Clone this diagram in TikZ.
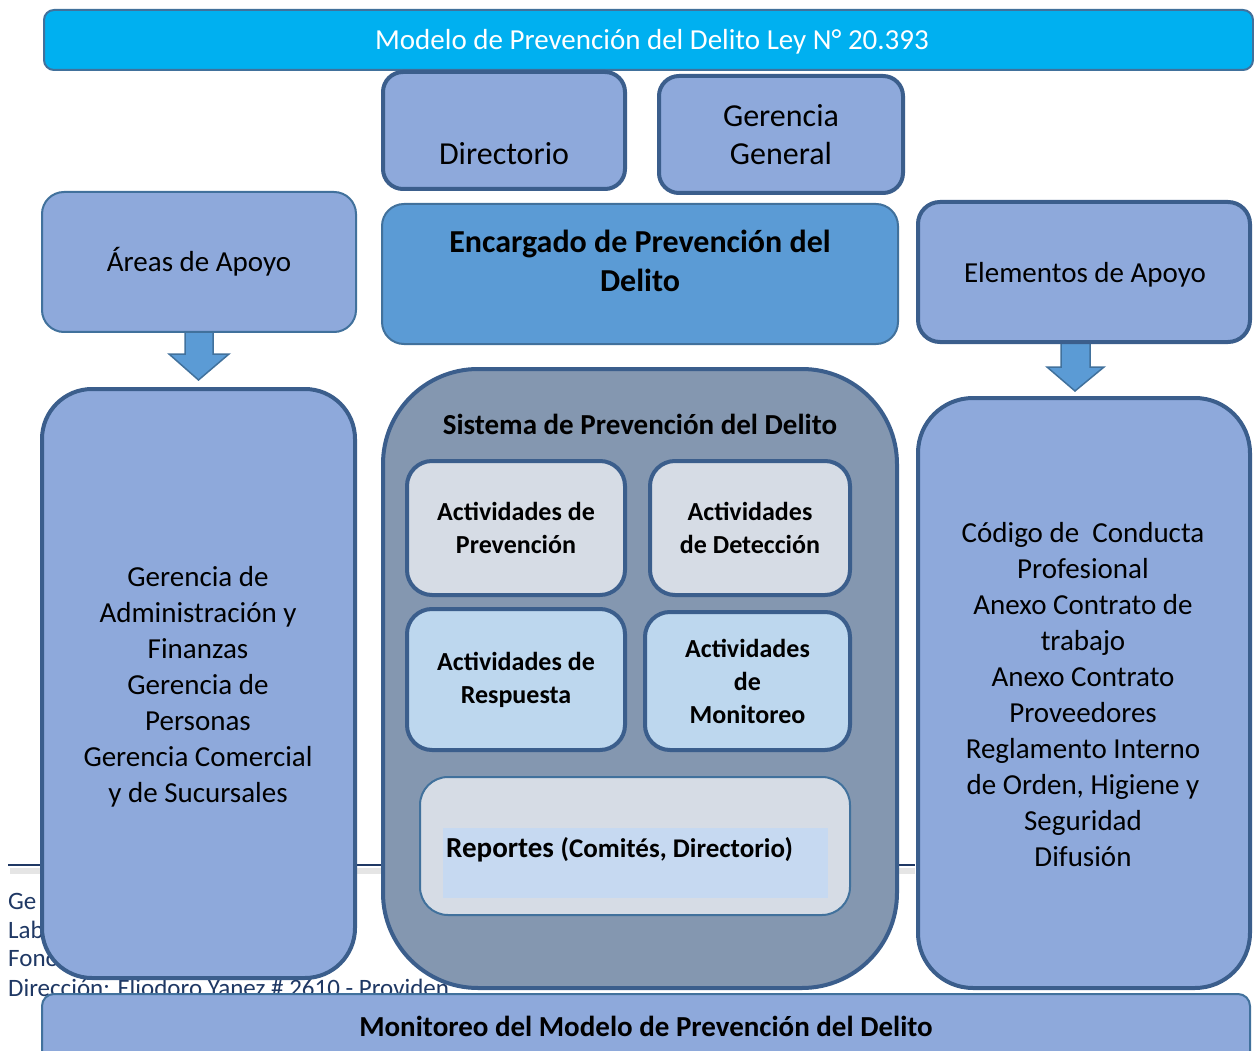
\documentclass[tikz,border=0pt]{standalone}
\usepackage{fontspec}
\setmainfont{Carlito}
\usetikzlibrary{calc}
\pgfdeclarelayer{bg}
\pgfdeclarelayer{arr}
\pgfsetlayers{bg,arr,main}
\definecolor{hdr}{HTML}{00B0F0}
\definecolor{lb}{HTML}{8EA9DB}
\definecolor{bd}{HTML}{3B5E8C}
\definecolor{bdt}{HTML}{41719C}
\definecolor{midb}{HTML}{5B9BD5}
\definecolor{slate}{HTML}{8497B0}
\definecolor{pale}{HTML}{D6DCE5}
\definecolor{paleb}{HTML}{BDD7EE}
\definecolor{repb}{HTML}{C6D9F1}
\definecolor{navy}{HTML}{1F3864}
\newcommand\fsz[2]{\fontsize{#1pt}{#2pt}\selectfont}
\tikzset{
  thickbox/.style={draw=bd, line width=4pt, fill=lb, inner sep=0pt, align=center},
  thinbox/.style={draw=bdt, line width=2pt, fill=lb, inner sep=0pt, align=center},
  reg/.style={font=\fsz{29}{36}},
  topt/.style={font=\fsz{32}{38}},
  boldt/.style={font=\bfseries\fsz{29}{36}},
  actt/.style={font=\bfseries\fsz{26}{33}},
  bigarrow/.style={fill=midb, draw=bdt, line width=1.5pt, line join=miter},
  foot/.style={text=navy, font=\fsz{25}{29}, anchor=west, inner sep=0pt}
}
\begin{document}
\begin{tikzpicture}[x=1pt,y=-1pt]
\clip (0,0) rectangle (1254,1051);
\begin{pgfonlayer}{bg}
\fill[white] (0,0) rectangle (1254,1051);
% page footer behind the diagram
\draw[black!20, line width=6pt, opacity=0.5] (10,871) -- (915,871);
\draw[navy, line width=2pt] (8,865) -- (915,865);
\node[foot] (f1) at (8,901) {Ge};
\node[foot] (f2) at (8,930) {Lab};
\node[foot] (f3) at (8,959) {Fono};
\node[foot] (f4) at (8,988) {Dirección: Eliodoro Yanez \# 2610 - Providen};
\end{pgfonlayer}

% header
\node[thinbox, fill=hdr, rounded corners=10pt, minimum width=1209pt, minimum height=60pt] (hdr) at (648.5,40) {};
\node[reg, text=white] (hdrt) at (652,42) {Modelo de Prevención del Delito Ley N° 20.393};

% top boxes
\node[thickbox, rounded corners=20pt, minimum width=242pt, minimum height=117pt] (dir) at (504,130.5) {};
\node[topt] (dirt) at (504,154) {Directorio};
\node[thickbox, rounded corners=20pt, minimum width=244pt, minimum height=117pt, topt] (ger) at (781,134.5) {Gerencia\\General};

\node[thinbox, rounded corners=22pt, minimum width=314pt, minimum height=140pt, reg] (areas) at (199,262) {Áreas de Apoyo};
\node[thinbox, fill=midb, rounded corners=22pt, minimum width=516pt, minimum height=140pt] (enc) at (640,274) {};
\node[font=\bfseries\fsz{32}{39}, align=center] (enct) at (640,260.5) {Encargado de Prevención del\\Delito};
\node[thickbox, rounded corners=22pt, minimum width=332pt, minimum height=140pt] (elem) at (1084,272) {};
\node[reg] (elemt) at (1085,275) {Elementos de Apoyo};

% big columns
\node[thickbox, rounded corners=50pt, minimum width=313pt, minimum height=589pt] (gleft) at (198.5,683.5) {};
\node[thickbox, rounded corners=55pt, minimum width=332pt, minimum height=590pt] (rbig) at (1084,693) {};

% arrows (behind the boxes)
\begin{pgfonlayer}{arr}
\filldraw[bigarrow] ([xshift=-14pt,yshift=3pt]areas.south) -- ([xshift=-14pt,yshift=-21pt]areas.south)
  -- ([xshift=-30pt,yshift=-21pt]areas.south) -- ([yshift=7pt]gleft.north)
  -- ([xshift=30pt,yshift=-21pt]areas.south) -- ([xshift=14pt,yshift=-21pt]areas.south)
  -- ([xshift=14pt,yshift=3pt]areas.south) -- cycle;
\filldraw[bigarrow] ([xshift=-23pt,yshift=3pt]elem.south) -- ([xshift=-23pt,yshift=-23pt]elem.south)
  -- ([xshift=-37pt,yshift=-23pt]elem.south) -- ([xshift=-9pt,yshift=5pt]rbig.north)
  -- ([xshift=20pt,yshift=-23pt]elem.south) -- ([xshift=6pt,yshift=-23pt]elem.south)
  -- ([xshift=6pt,yshift=3pt]elem.south) -- cycle;
\end{pgfonlayer}

\node[reg, align=center] (gleftt) at (198,687) {Gerencia de\\Administración y\\Finanzas\\Gerencia de\\Personas\\Gerencia Comercial\\y de Sucursales};
\node[reg, align=center] (rbigt) at (1083,694.5) {Código de\ \ Conducta\\Profesional\\Anexo Contrato de\\trabajo\\Anexo Contrato\\Proveedores\\Reglamento Interno\\de Orden, Higiene y\\Seguridad\\Difusión};

% central system
\node[thickbox, fill=slate, rounded corners=95pt, minimum width=514pt, minimum height=619pt] (sys) at (640,678.5) {};
\node[boldt] (syst) at (640,424) {Sistema de Prevención del Delito};

\node[thickbox, fill=pale, rounded corners=25pt, minimum width=218pt, minimum height=134pt, actt] (prev) at (516,528) {Actividades de\\Prevención};
\node[thickbox, fill=pale, rounded corners=25pt, minimum width=200pt, minimum height=134pt, actt] (det) at (750,528) {Actividades\\de Detección};
\node[thickbox, fill=paleb, rounded corners=25pt, minimum width=218pt, minimum height=141pt, actt] (resp) at (516,679.5) {Actividades de\\Respuesta};
\node[thickbox, fill=paleb, rounded corners=25pt, minimum width=205pt, minimum height=138pt, actt] (mon) at (747.5,681) {Actividades\\de\\Monitoreo};

\node[thinbox, fill=pale, rounded corners=28pt, minimum width=430pt, minimum height=138pt] (rep) at (635,846) {};
\node[fill=repb, inner sep=0pt, minimum width=385pt, minimum height=70pt] (repin) at (635.5,863) {};
\node[anchor=base west, inner sep=0pt, font=\bfseries] (rept) at (446,857) {\fsz{29}{34}Reportes \fsz{27}{30}(Comités, Directorio)};

% bottom bar
\node[thinbox, rounded corners=12pt, minimum width=1208pt, minimum height=86pt] (mbar) at (646,1037) {};
\node[boldt] (mbart) at (646,1026) {Monitoreo del Modelo de Prevención del Delito};
\end{tikzpicture}
\end{document}
